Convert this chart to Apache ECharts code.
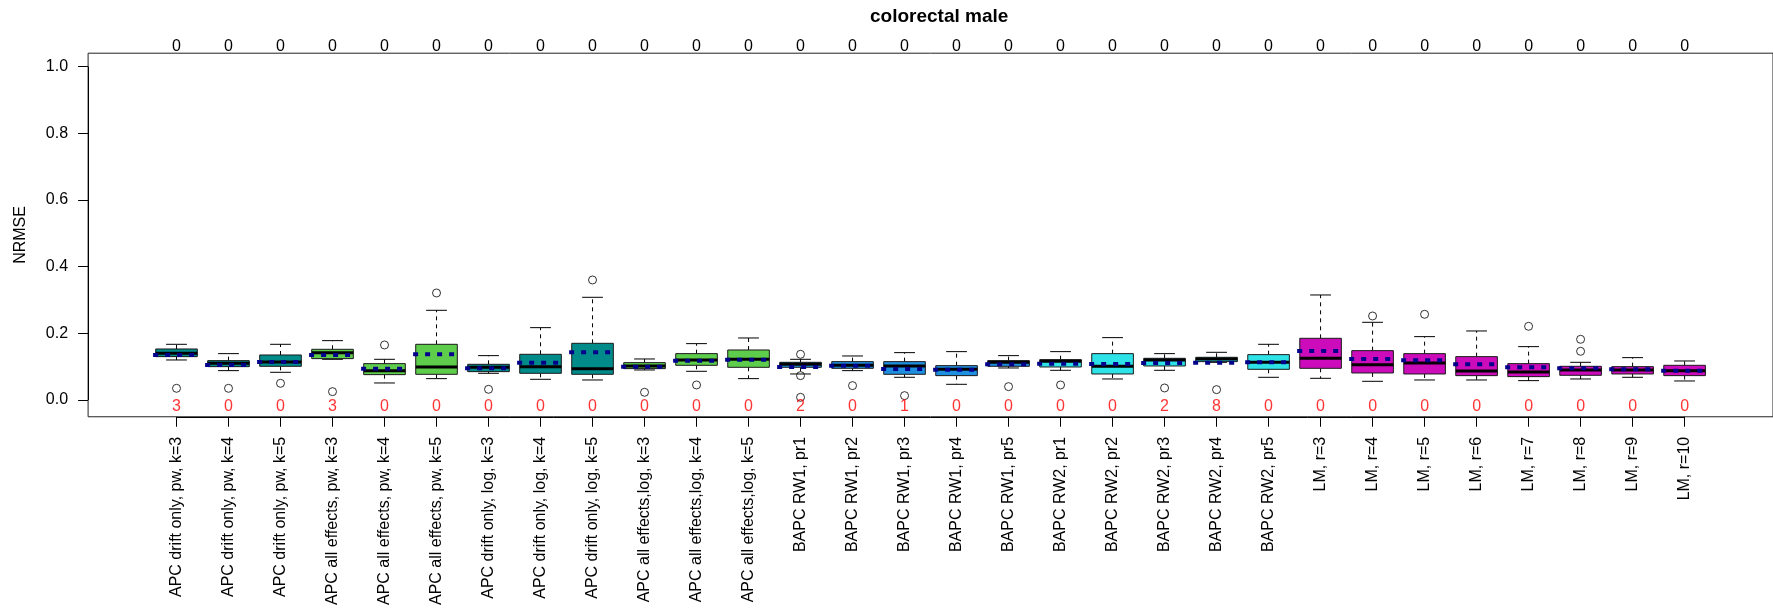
<!DOCTYPE html>
<html>
<head>
<meta charset="utf-8">
<title>colorectal male</title>
<script src="https://cdn.jsdelivr.net/npm/echarts@6/dist/echarts.min.js"></script>
<style>
  html, body { margin: 0; padding: 0; background: #ffffff; }
  #chart { width: 1773px; height: 608px; }
</style>
</head>
<body>
<div id="chart"></div>
<script>
// Model variants along the x axis
const categories = [
  'APC drift only, pw, k=3', 'APC drift only, pw, k=4', 'APC drift only, pw, k=5',
  'APC all effects, pw, k=3', 'APC all effects, pw, k=4', 'APC all effects, pw, k=5',
  'APC drift only, log, k=3', 'APC drift only, log, k=4', 'APC drift only, log, k=5',
  'APC all effects,log, k=3', 'APC all effects,log, k=4', 'APC all effects,log, k=5',
  'BAPC RW1, pr1', 'BAPC RW1, pr2', 'BAPC RW1, pr3', 'BAPC RW1, pr4', 'BAPC RW1, pr5',
  'BAPC RW2, pr1', 'BAPC RW2, pr2', 'BAPC RW2, pr3', 'BAPC RW2, pr4', 'BAPC RW2, pr5',
  'LM, r=3', 'LM, r=4', 'LM, r=5', 'LM, r=6', 'LM, r=7', 'LM, r=8', 'LM, r=9', 'LM, r=10'
];

// Model family of each variant
const modelGroup = [
  'apcDrift', 'apcDrift', 'apcDrift', 'apcAll', 'apcAll', 'apcAll',
  'apcDrift', 'apcDrift', 'apcDrift', 'apcAll', 'apcAll', 'apcAll',
  'bapcRW1', 'bapcRW1', 'bapcRW1', 'bapcRW1', 'bapcRW1',
  'bapcRW2', 'bapcRW2', 'bapcRW2', 'bapcRW2', 'bapcRW2',
  'lm', 'lm', 'lm', 'lm', 'lm', 'lm', 'lm', 'lm'
];

// NRMSE summary statistics per variant
const whiskerLow  = [0.120, 0.088, 0.083, 0.122, 0.051, 0.064, 0.080, 0.062, 0.060, 0.090,
                     0.086, 0.064, 0.078, 0.088, 0.068, 0.047, 0.096, 0.089, 0.063, 0.089,
                     0.113, 0.068, 0.065, 0.056, 0.060, 0.060, 0.058, 0.063, 0.068, 0.057];
const quartile1   = [0.130, 0.100, 0.101, 0.124, 0.076, 0.077, 0.085, 0.080, 0.077, 0.094,
                     0.104, 0.098, 0.098, 0.095, 0.077, 0.073, 0.101, 0.099, 0.078, 0.102,
                     0.115, 0.092, 0.095, 0.081, 0.078, 0.073, 0.070, 0.074, 0.078, 0.073];
const medians     = [0.140, 0.110, 0.114, 0.142, 0.088, 0.099, 0.098, 0.100, 0.094, 0.102,
                     0.120, 0.122, 0.107, 0.104, 0.102, 0.092, 0.113, 0.116, 0.101, 0.120,
                     0.123, 0.113, 0.125, 0.106, 0.111, 0.087, 0.084, 0.090, 0.090, 0.088];
const quartile3   = [0.153, 0.118, 0.135, 0.152, 0.109, 0.167, 0.107, 0.137, 0.170, 0.112,
                     0.139, 0.150, 0.113, 0.115, 0.115, 0.103, 0.118, 0.121, 0.139, 0.125,
                     0.128, 0.136, 0.185, 0.148, 0.139, 0.130, 0.109, 0.101, 0.100, 0.104];
const whiskerHigh = [0.167, 0.139, 0.167, 0.178, 0.122, 0.269, 0.133, 0.217, 0.308, 0.123,
                     0.169, 0.186, 0.122, 0.132, 0.142, 0.145, 0.133, 0.145, 0.187, 0.139,
                     0.143, 0.167, 0.315, 0.233, 0.190, 0.207, 0.160, 0.113, 0.127, 0.117];
const means       = [0.135, 0.105, 0.114, 0.135, 0.094, 0.137, 0.095, 0.112, 0.143, 0.100,
                     0.118, 0.121, 0.099, 0.103, 0.093, 0.091, 0.107, 0.109, 0.108, 0.111,
                     0.112, 0.113, 0.147, 0.123, 0.119, 0.107, 0.098, 0.095, 0.092, 0.088];
const outliers = [
  [0.035], [0.035], [0.050], [0.025], [0.165], [0.321],
  [0.032], [], [0.360], [0.023], [0.045], [],
  [0.137, 0.073, 0.008], [0.043], [0.013], [], [0.040],
  [0.045], [], [0.036], [0.031], [],
  [], [0.252], [0.257], [], [0.221], [0.182, 0.146], [], []
];

// Counts printed along the bottom (red) and the top of the panel
const bottomCounts = [3, 0, 0, 3, 0, 0, 0, 0, 0, 0, 0, 0, 2, 0, 1, 0, 0, 0, 0, 2, 8, 0, 0, 0, 0, 0, 0, 0, 0, 0];
const topCounts    = [0, 0, 0, 0, 0, 0, 0, 0, 0, 0, 0, 0, 0, 0, 0, 0, 0, 0, 0, 0, 0, 0, 0, 0, 0, 0, 0, 0, 0, 0];

const yTicks = [0, 0.2, 0.4, 0.6, 0.8, 1.0];

// ---- styling ----
const FONT = '"Liberation Sans", Arial, Helvetica, sans-serif';
const FS = 16;
const groupFill = {
  apcDrift: '#008B8B',
  apcAll:   '#5FCD4C',
  bapcRW1:  '#1E8FDF',
  bapcRW2:  '#2EE3E8',
  lm:       '#CC0CBA'
};
const positions = categories.map((_, i) => i + 1);

const boxData = positions.map((x, i) => [
  x, whiskerLow[i], quartile1[i], medians[i], quartile3[i], whiskerHigh[i], means[i]
]);
const outlierData = [];
outliers.forEach((list, i) => list.forEach(v => outlierData.push([i + 1, v])));
const countData = positions.map((x, i) => [x, -0.02, bottomCounts[i]]);

function renderBox(params, api) {
  const x = api.value(0);
  const lo = api.value(1), q1 = api.value(2), med = api.value(3);
  const q3 = api.value(4), hi = api.value(5), mean = api.value(6);
  const fill = groupFill[modelGroup[params.dataIndex]];
  const p = (a, b) => api.coord([a, b]);
  const halfBox = 0.4, halfCap = 0.2;

  const seg = (a, b, style) => ({
    type: 'line',
    shape: { x1: a[0], y1: a[1], x2: b[0], y2: b[1] },
    style: style
  });
  const whiskerStyle = { stroke: '#000', lineWidth: 1, lineDash: [4, 4] };
  const capStyle = { stroke: '#000', lineWidth: 1 };

  const tl = p(x - halfBox, q3), br = p(x + halfBox, q1);
  return {
    type: 'group',
    children: [
      seg(p(x, q3), p(x, hi), whiskerStyle),
      seg(p(x, q1), p(x, lo), whiskerStyle),
      seg(p(x - halfCap, hi), p(x + halfCap, hi), capStyle),
      seg(p(x - halfCap, lo), p(x + halfCap, lo), capStyle),
      {
        type: 'rect',
        shape: { x: tl[0], y: tl[1], width: br[0] - tl[0], height: br[1] - tl[1] },
        style: { fill: fill, stroke: '#1a1a1a', lineWidth: 1 }
      },
      seg(p(x - halfBox, med), p(x + halfBox, med), { stroke: '#000', lineWidth: 3 }),
      seg(p(x - 0.45, mean), p(x + 0.45, mean),
          { stroke: '#00008B', lineWidth: 4, lineDash: [5, 7], lineCap: 'butt' })
    ]
  };
}

const chart = echarts.init(document.getElementById('chart'), null, { renderer: 'canvas' });
chart.setOption({
  backgroundColor: '#ffffff',
  animation: false,
  title: {
    text: 'colorectal male',
    left: 865,
    top: 2,
    textStyle: { fontFamily: FONT, fontSize: 19, fontWeight: 'bold', color: '#000' }
  },
  grid: {
    left: 88.1, top: 53.2, width: 1694.2, height: 363.6,
    containLabel: false,
    show: true, borderColor: '#222', borderWidth: 1, backgroundColor: 'transparent'
  },
  xAxis: [
    {
      type: 'value', min: -0.7, max: 31.7, position: 'bottom',
      splitLine: { show: false },
      axisLine: { show: false, onZero: false },
      axisTick: { show: true, customValues: positions, length: 10, inside: false,
                  lineStyle: { color: '#000', width: 1 } },
      axisLabel: {
        show: true, customValues: positions, rotate: 90, margin: 20,
        formatter: v => categories[Math.round(v) - 1] || '',
        fontFamily: FONT, fontSize: FS, color: '#000'
      }
    },
    {
      type: 'value', min: -0.7, max: 31.7, position: 'top',
      splitLine: { show: false },
      axisLine: { show: false, onZero: false },
      axisTick: { show: false },
      axisLabel: {
        show: true, customValues: positions, margin: 7, verticalAlign: 'middle',
        formatter: v => String(topCounts[Math.round(v) - 1]),
        fontFamily: FONT, fontSize: FS, color: '#000'
      }
    }
  ],
  yAxis: {
    type: 'value', min: -0.0504, max: 1.0404, position: 'left',
    name: 'NRMSE', nameLocation: 'middle', nameGap: 60, nameRotate: 90,
    nameTextStyle: { fontFamily: FONT, fontSize: FS, color: '#000' },
    splitLine: { show: false },
    axisLine: { show: false, onZero: false },
    axisTick: { show: true, customValues: yTicks, length: 10,
                lineStyle: { color: '#000', width: 1 } },
    axisLabel: {
      show: true, customValues: yTicks, margin: 20,
      formatter: v => Number(v).toFixed(1),
      fontFamily: FONT, fontSize: FS, color: '#000'
    }
  },
  series: [
    {
      // axis line segments drawn between the outer ticks
      type: 'line', data: [], silent: true,
      markLine: {
        silent: true, symbol: 'none', animation: false, label: { show: false },
        lineStyle: { color: '#000', width: 1, type: 'solid' },
        data: [
          [{ coord: [1, -0.0504] }, { coord: [30, -0.0504] }],
          [{ coord: [-0.7, 0] }, { coord: [-0.7, 1] }]
        ]
      }
    },
    {
      type: 'custom',
      renderItem: renderBox,
      data: boxData,
      encode: { x: 0, y: [1, 2, 3, 4, 5, 6] },
      clip: false,
      silent: true,
      z: 3
    },
    {
      type: 'scatter',
      data: outlierData,
      symbol: 'circle',
      symbolSize: 8,
      itemStyle: { color: 'rgba(0,0,0,0)', borderColor: '#000', borderWidth: 1 },
      silent: true,
      z: 4
    },
    {
      type: 'scatter',
      data: countData,
      symbolSize: 0,
      silent: true,
      label: {
        show: true, position: 'inside',
        formatter: d => String(d.value[2]),
        fontFamily: FONT, fontSize: FS, color: '#FF0000'
      },
      z: 5
    }
  ]
});
</script>
</body>
</html>
